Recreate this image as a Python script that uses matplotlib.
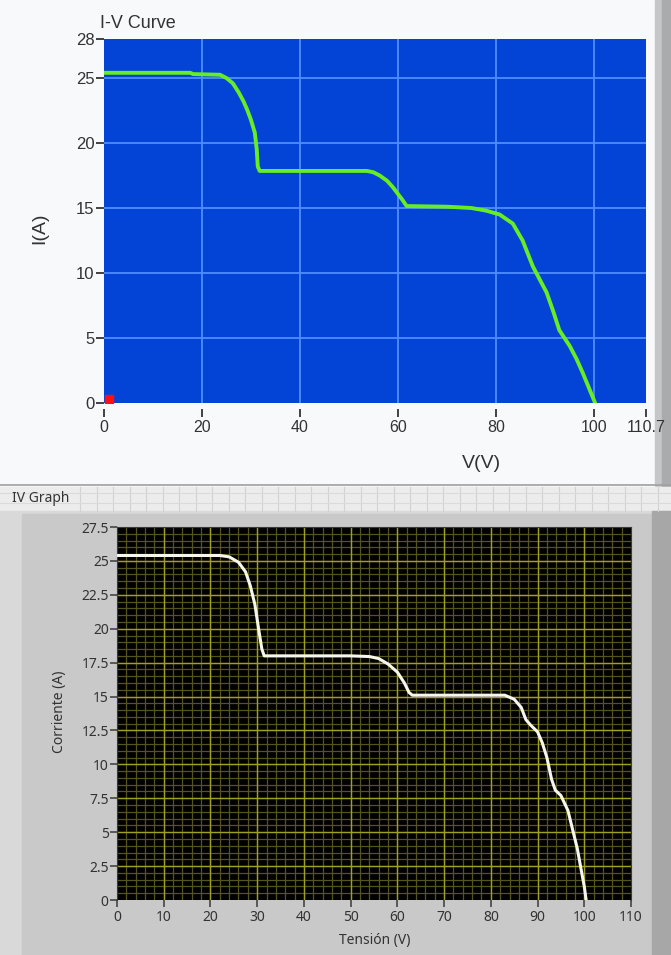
import matplotlib.pyplot as plt
from matplotlib.patches import Rectangle
import numpy as np

# upper graph (green curve on blue)
v_top = [0, 17.6, 18.2, 23.7, 25.0, 26.3, 27.5, 28.5, 29.2, 30.0, 30.8, 31.2, 31.4, 31.8,
         53.7, 55.0, 56.3, 57.8, 59.0, 60.0, 61.0, 61.8, 70.0, 75.0, 78.0, 80.8, 83.5,
         85.5, 87.6, 89.0, 90.4, 91.8, 93.0, 95.1, 96.5, 97.8, 99.0, 100.2]
i_top = [25.4, 25.4, 25.3, 25.25, 25.0, 24.6, 23.9, 23.2, 22.6, 21.8, 20.8, 19.5, 18.2, 17.85,
         17.85, 17.75, 17.5, 17.1, 16.6, 16.1, 15.6, 15.15, 15.1, 15.0, 14.8, 14.5, 13.8,
         12.5, 10.5, 9.5, 8.5, 7.0, 5.6, 4.4, 3.4, 2.3, 1.2, 0.1]
top_xticks = [0, 20, 40, 60, 80, 100, 110.7]
top_xlabels = ['0', '20', '40', '60', '80', '100', '110.7']
top_yticks = [0, 5, 10, 15, 20, 25, 28]
marker_v = [1.0]
marker_i = [0.3]

# lower graph (white curve on black)
v_bot = [0, 22, 24, 26, 27.5, 28.5, 29.5, 30.3, 31, 31.5, 50, 54, 56, 58, 60, 61.5, 62.5, 63.2,
         83, 85, 86.5, 87.5, 88.5, 90, 91, 92, 93, 93.8, 95, 96.5, 97.5, 98.5, 99.3, 100, 100.4]
i_bot = [25.4, 25.4, 25.3, 24.9, 24.2, 23.2, 21.8, 20.0, 18.5, 18.0, 18.0, 17.95, 17.8, 17.4,
         16.8, 16.0, 15.3, 15.1, 15.1, 14.8, 14.2, 13.3, 12.9, 12.4, 11.6, 10.5, 8.9, 8.1,
         7.7, 6.6, 5.2, 3.8, 2.3, 1.0, 0.0]
bot_xticks = list(range(0, 111, 10))
bot_yticks = [0, 2.5, 5, 7.5, 10, 12.5, 15, 17.5, 20, 22.5, 25, 27.5]
bot_ylabels = ['0', '2.5', '5', '7.5', '10', '12.5', '15', '17.5', '20', '22.5', '25', '27.5']

W, H = 671, 955
fig = plt.figure(figsize=(W / 100, H / 100), dpi=100)
fig.patch.set_facecolor('#f6f8f9')

# panel backgrounds, in pixel coords
bg = fig.add_axes([0, 0, 1, 1], zorder=-10)
bg.set_xlim(0, W)
bg.set_ylim(H, 0)
bg.axis('off')
bg.add_patch(Rectangle((0, 0), W, 486, color='#f7f9fa'))
bg.add_patch(Rectangle((655, 0), 16, 486, color='#c4c6c8'))
bg.add_patch(Rectangle((662, 0), 9, 486, color='#a9abad'))
bg.plot([0, W], [485, 485], color='#a0a0a0', lw=1.2)
# title strip with panel grid
bg.add_patch(Rectangle((0, 487), W, 24, color='#ececec'))
for gx in np.arange(80, W, 16.5):
    bg.plot([gx, gx], [487, 511], color='#d2d2d2', lw=0.8)
for gy in [493, 503]:
    bg.plot([0, W], [gy, gy], color='#dadada', lw=0.8)
# lower panel
bg.add_patch(Rectangle((0, 511), W, H - 511, color='#d9d9d9'))
bg.add_patch(Rectangle((22, 514), 633, H - 514, color='#c9c9c9'))
bg.add_patch(Rectangle((652, 511), 19, H - 511, color='#a7a7a7'))

# ---- top graph
ax1 = fig.add_axes([104 / W, 1 - 403 / H, (646 - 104) / W, (403 - 39) / H])
ax1.set_facecolor('#0343d6')
ax1.set_xlim(0, 110.7)
ax1.set_ylim(0, 28)
for gx in top_xticks[1:-1]:
    ax1.axvline(gx, color='#4f8dff', lw=1.3, zorder=1)
for gy in top_yticks[1:-1]:
    ax1.axhline(gy, color='#4f8dff', lw=1.3, zorder=1)
ax1.plot(v_top, i_top, color='#66ee22', lw=2.8, zorder=3)
ax1.plot(marker_v, marker_i, 's', color='#ff1010', ms=6, zorder=4)
ax1.set_xticks(top_xticks)
ax1.set_xticklabels(top_xlabels)
ax1.set_yticks(top_yticks)
for s in ax1.spines.values():
    s.set_visible(False)
ax1.spines['bottom'].set_position(('outward', 4))
ax1.tick_params(axis='both', colors='#333333', labelsize=12, width=1.3, length=6)
ax1.tick_params(axis='x', labelsize=11.5, pad=2)
ax1.tick_params(axis='y', pad=1)
for lab in ax1.get_xticklabels() + ax1.get_yticklabels():
    lab.set_family('Liberation Sans')
    lab.set_color('#333333')
fig.text(100 / W, 1 - 24 / H, 'I-V Curve', family='Liberation Sans', fontsize=13,
         color='#333333', va='center', ha='left')
fig.text(481 / W, 1 - 463 / H, 'V(V)', family='Liberation Sans', fontsize=14,
         color='#333333', va='center', ha='center')
fig.text(40 / W, 1 - 228 / H, 'I(A)', family='Liberation Sans', fontsize=14,
         color='#333333', va='center', ha='center', rotation=90)

# ---- bottom graph
ax2 = fig.add_axes([117 / W, 1 - 900 / H, (631 - 117) / W, (900 - 527) / H])
ax2.set_facecolor('#000000')
ax2.set_xlim(0, 110)
ax2.set_ylim(0, 27.5)
for gx in np.arange(2, 110, 2):
    ax2.axvline(gx, color='#54541c', lw=0.9, zorder=1)
for gy in np.arange(0.5, 27.5, 0.5):
    ax2.axhline(gy, color='#54541c', lw=0.9, zorder=1)
for gx in bot_xticks[1:-1]:
    ax2.axvline(gx, color='#a0a020', lw=1.0, zorder=2)
for gy in bot_yticks[1:-1]:
    ax2.axhline(gy, color='#a0a020', lw=1.0, zorder=2)
ax2.plot(v_bot, i_bot, color='#f6f6ec', lw=2.2, zorder=3)
ax2.set_xticks(bot_xticks)
ax2.set_yticks(bot_yticks)
ax2.set_yticklabels(bot_ylabels)
for s in ax2.spines.values():
    s.set_color('#3a3a3a')
ax2.spines['bottom'].set_visible(False)
ax2.tick_params(axis='both', colors='#3a3a3a', labelsize=10, width=1.1, length=5)
ax2.tick_params(axis='y', pad=1)
ax2.tick_params(axis='x', pad=2)
for lab in ax2.get_xticklabels() + ax2.get_yticklabels():
    lab.set_family('Noto Sans')
    lab.set_color('#333333')
fig.text(12 / W, 1 - 498 / H, 'IV Graph', family='Noto Sans', fontsize=10,
         color='#333333', va='center', ha='left')
fig.text(375 / W, 1 - 940 / H, 'Tensión (V)', family='Noto Sans', fontsize=10,
         color='#333333', va='center', ha='center')
fig.text(60 / W, 1 - 712 / H, 'Corriente (A)', family='Noto Sans', fontsize=10,
         color='#333333', va='center', ha='center', rotation=90)

fig.savefig('out.png', dpi=100)
